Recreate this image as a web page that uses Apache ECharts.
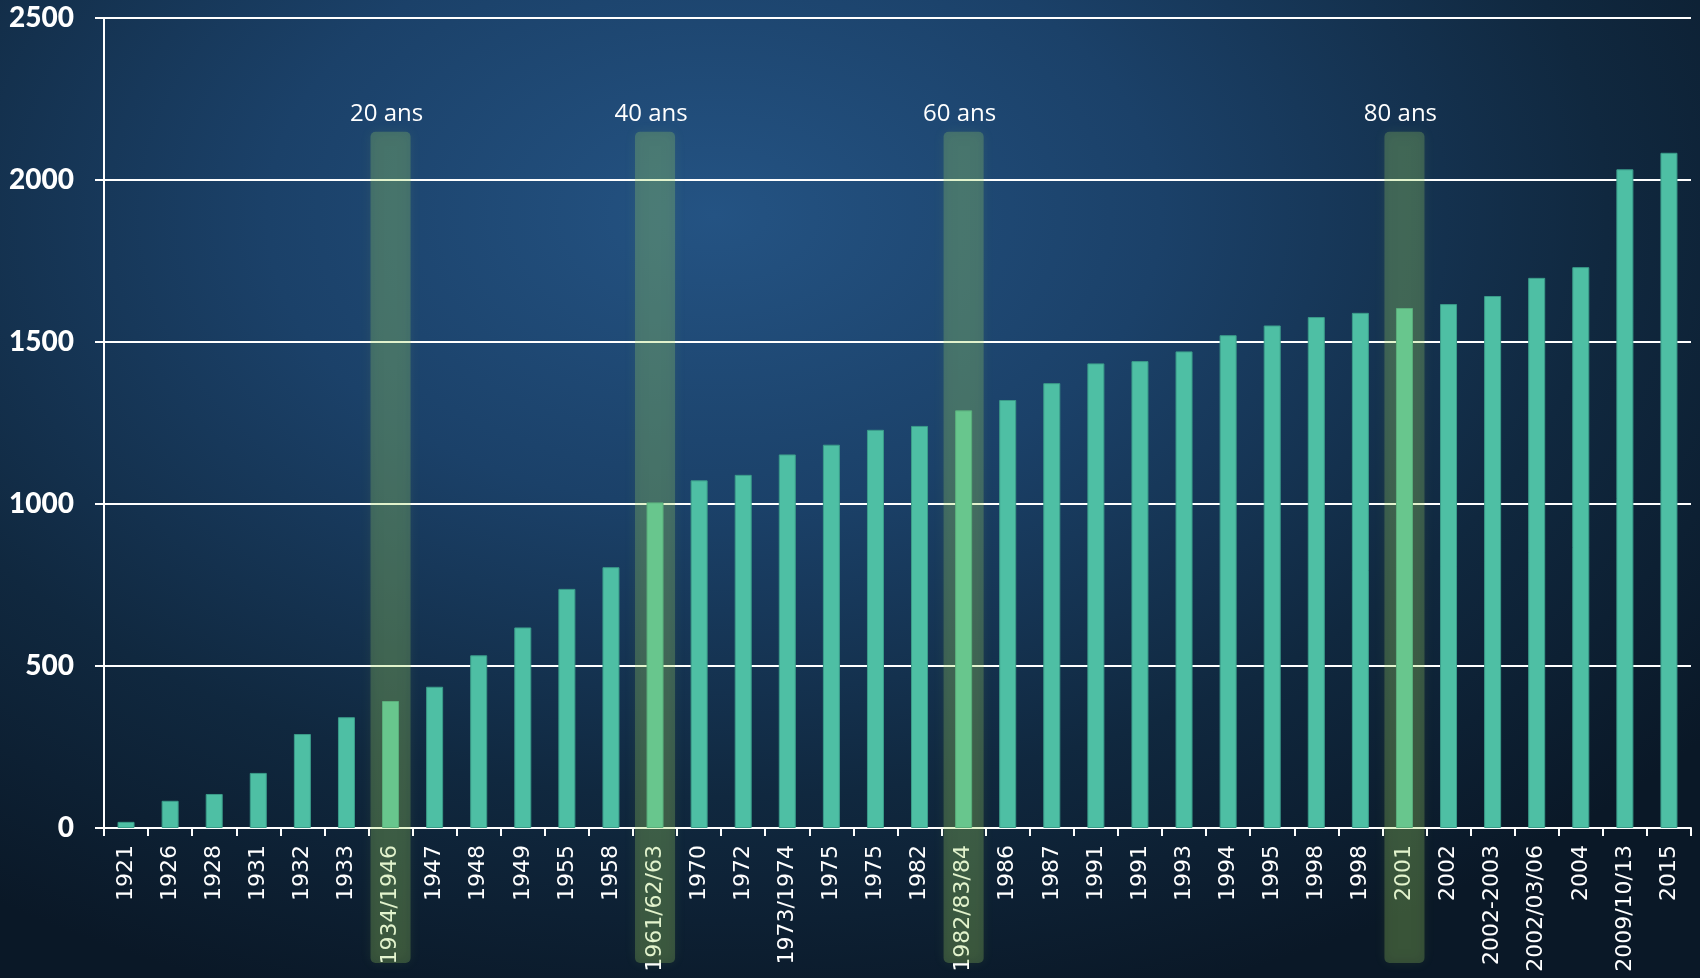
<!DOCTYPE html>
<html>
<head>
<meta charset="utf-8">
<script src="https://cdn.jsdelivr.net/npm/echarts@6/dist/echarts.min.js"></script>
<style>
html,body{margin:0;padding:0;width:1700px;height:978px;overflow:hidden;
background:radial-gradient(ellipse 75% 85% at 42% 22%, #245383 0%, #1b4169 35%, #10283f 70%, #0a1827 100%);}
#c{width:1700px;height:978px;}
</style>
</head>
<body>
<div id="c"></div>
<script>
const categories = ['1921','1926','1928','1931','1932','1933','1934/1946','1947','1948','1949','1955','1958','1961/62/63','1970','1972','1973/1974','1975','1975','1982','1982/83/84','1986','1987','1991','1991','1993','1994','1995','1998','1998','2001','2002','2002-2003','2002/03/06','2004','2009/10/13','2015'];
const values = [19, 84, 105, 170, 290, 342, 392, 436, 533, 619, 738, 805, 1005, 1073, 1090, 1153, 1183, 1229, 1241, 1289, 1321, 1373, 1434, 1441, 1471, 1521, 1551, 1577, 1590, 1605, 1617, 1642, 1698, 1731, 2033, 2084];
const highlightIndex = [6, 12, 19, 29];
const highlightLabels = ['20 ans', '40 ans', '60 ans', '80 ans'];
const yTicks = [0, 500, 1000, 1500, 2000, 2500];

const chart = echarts.init(document.getElementById('c'), null, {renderer: 'canvas'});
const bandData = highlightIndex.map((idx, i) => [idx, highlightLabels[i]]);

chart.setOption({
  backgroundColor: 'transparent',
  animation: false,
  grid: {left: 104, right: 9, top: 18, bottom: 150, containLabel: false},
  xAxis: {
    type: 'category',
    data: categories,
    boundaryGap: true,
    axisLine: {show: true, lineStyle: {color: '#ffffff', width: 2}},
    axisTick: {show: true, length: 8, lineStyle: {color: '#ffffff', width: 2}},
    axisLabel: {interval: 0, rotate: 90, color: '#ffffff', fontFamily: 'DejaVu Sans', fontSize: 22, margin: 17},
    splitLine: {show: false}
  },
  yAxis: {
    type: 'value',
    min: yTicks[0],
    max: yTicks[yTicks.length - 1],
    interval: 500,
    axisLine: {show: true, lineStyle: {color: '#ffffff', width: 2}},
    axisTick: {show: true, length: 9, lineStyle: {color: '#ffffff', width: 2}},
    axisLabel: {color: '#ffffff', fontFamily: 'Lato', fontWeight: 900, fontSize: 28, margin: 30,
      formatter: function (v) { return String(v); }},
    splitLine: {show: true, lineStyle: {color: '#ffffff', width: 2}}
  },
  series: [
    {
      type: 'bar',
      data: values,
      barWidth: 17,
      itemStyle: {color: '#4ebfa4', borderColor: '#3b9c8a', borderWidth: 1}
    },
    {
      type: 'custom',
      z: 10,
      clip: false,
      silent: true,
      data: bandData,
      renderItem: function (params, api) {
        const idx = api.value(0);
        const center = api.coord([idx, 0]);
        const w = api.size([1, 0])[0];
        const top = api.coord([idx, 2155])[1];
        const bottom = center[1] + 137;
        return {
          type: 'group',
          children: [
            {
              type: 'rect',
              shape: {x: center[0] - w / 2 + 2, y: top + 2, width: w - 4, height: bottom - top - 4, r: 5},
              style: {fill: 'rgba(165,215,95,0.25)', shadowBlur: 12, shadowColor: 'rgba(165,215,95,0.35)'}
            },
            {
              type: 'text',
              z2: 20,
              style: {
                x: center[0] - 4, y: top - 4,
                text: bandData[params.dataIndex][1],
                fill: '#ffffff',
                font: '24px "Open Sans", Lato, sans-serif',
                textAlign: 'center',
                textVerticalAlign: 'bottom'
              }
            }
          ]
        };
      }
    }
  ]
});
</script>
</body>
</html>
